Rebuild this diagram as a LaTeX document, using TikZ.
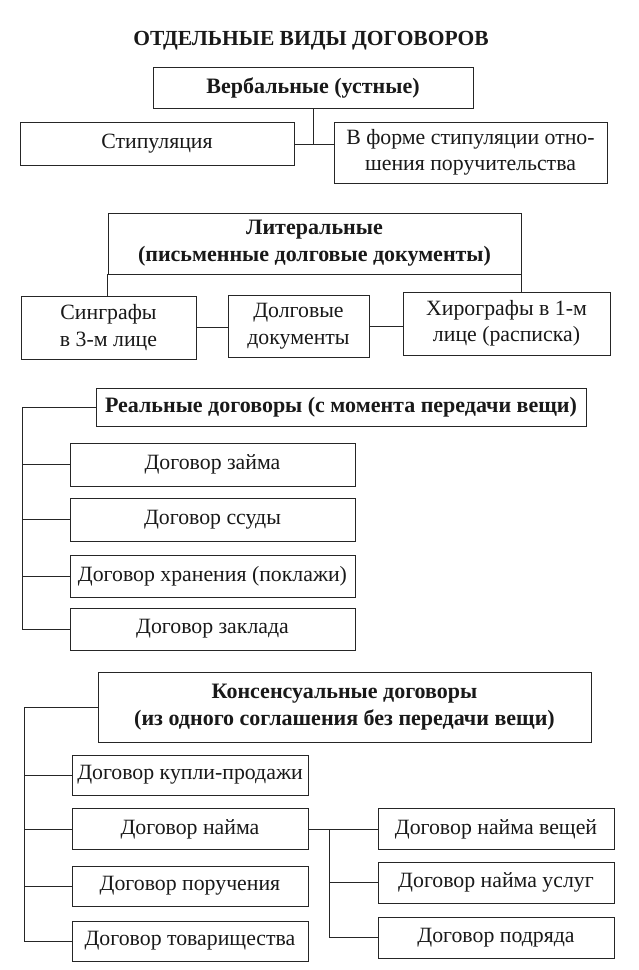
\documentclass[tikz,border=0pt]{standalone}
\usepackage{fontspec}
\setmainfont{Liberation Serif}
\begin{document}
\begin{tikzpicture}[x=1pt,y=-1pt,
  bx/.style={draw=black!85, line width=0.8pt, rectangle, inner sep=0pt, align=center,
             font=\fontsize{21.8}{26.5}\selectfont, text=black!90},
  hd/.style={bx, font=\fontsize{22}{27}\selectfont\bfseries},
  ln/.style={draw=black!85, line width=0.8pt}]
\useasboundingbox[fill=white] (0,0) rectangle (639,970);

\node[font=\fontsize{21.5}{26}\selectfont\bfseries, text=black!90] (title) at (311,41) {ОТДЕЛЬНЫЕ ВИДЫ ДОГОВОРОВ};

% Verbal
\node[hd, minimum width=320pt, minimum height=41pt] (verb) at (313,87.5) {Вербальные (устные)};
\node[bx, minimum width=274pt, minimum height=43pt] (stip) at (157,144) {Стипуляция};
\node[bx, minimum width=273pt, minimum height=61pt] (forme) at (470.5,152.5) {В форме стипуляции отно-\\шения поручительства};
\coordinate (vj) at (verb.south |- stip.east);
\draw[ln] (verb.south) -- (vj);
\draw[ln] (stip.east) -- (stip.east -| forme.west);

% Literal
\node[hd, minimum width=413pt, minimum height=61pt] (lit) at (314.5,243.5) {Литеральные\\(письменные долговые документы)};
\node[bx, minimum width=175pt, minimum height=63pt] (sing) at (108.5,327.5) {Синграфы\\в 3-м лице};
\node[bx, minimum width=141pt, minimum height=62pt] (dolg) at (298.5,326) {Долговые\\документы};
\node[bx, minimum width=207pt, minimum height=63pt] (hiro) at (506.5,323.5) {Хирографы в 1-м\\лице (расписка)};
\draw[ln] (lit.south west) -- (lit.south west |- sing.north);
\draw[ln] (lit.south east) -- (lit.south east |- hiro.north);
\draw[ln] (sing.east) -- (sing.east -| dolg.west);
\draw[ln] (dolg.east) -- (dolg.east -| hiro.west);

% Real
\node[hd, minimum width=490pt, minimum height=38pt] (real) at (341,407) {Реальные договоры (с момента передачи вещи)};
\node[bx, minimum width=285pt, minimum height=43pt] (zaim) at (212.5,464.5) {Договор займа};
\node[bx, minimum width=285pt, minimum height=43pt] (ssud) at (212.5,519.5) {Договор ссуды};
\node[bx, minimum width=285pt, minimum height=42pt] (hran) at (212.5,576) {Договор хранения (поклажи)};
\node[bx, minimum width=285pt, minimum height=42pt] (zakl) at (212.5,629) {Договор заклада};
\coordinate (rs) at (22,407);
\draw[ln] (real.west) -- (rs) -- (rs |- zakl.west) -- (zakl.west);
\draw[ln] (rs |- zaim.west) -- (zaim.west);
\draw[ln] (rs |- ssud.west) -- (ssud.west);
\draw[ln] (rs |- hran.west) -- (hran.west);

% Consensual
\node[hd, minimum width=493pt, minimum height=70pt] (kons) at (344.5,707) {Консенсуальные договоры\\(из одного соглашения без передачи вещи)};
\node[bx, minimum width=236pt, minimum height=40pt] (kupl) at (190,775) {Договор купли-продажи};
\node[bx, minimum width=236pt, minimum height=41pt] (naim) at (190,829) {Договор найма};
\node[bx, minimum width=236pt, minimum height=40pt] (poru) at (190,886) {Договор поручения};
\node[bx, minimum width=236pt, minimum height=40pt] (tova) at (190,941) {Договор товарищества};
\coordinate (ks) at (24,707);
\draw[ln] (kons.west) -- (ks) -- (ks |- tova.west) -- (tova.west);
\draw[ln] (ks |- kupl.west) -- (kupl.west);
\draw[ln] (ks |- naim.west) -- (naim.west);
\draw[ln] (ks |- poru.west) -- (poru.west);

\node[bx, minimum width=236pt, minimum height=41pt] (nv) at (496,829) {Договор найма вещей};
\node[bx, minimum width=236pt, minimum height=41pt] (nu) at (496,882.5) {Договор найма услуг};
\node[bx, minimum width=236pt, minimum height=41pt] (podr) at (496,937.5) {Договор подряда};
\coordinate (ss) at (329,829);
\draw[ln] (naim.east) -- (nv.west);
\draw[ln] (ss) -- (ss |- podr.west) -- (podr.west);
\draw[ln] (ss |- nu.west) -- (nu.west);
\end{tikzpicture}
\end{document}
